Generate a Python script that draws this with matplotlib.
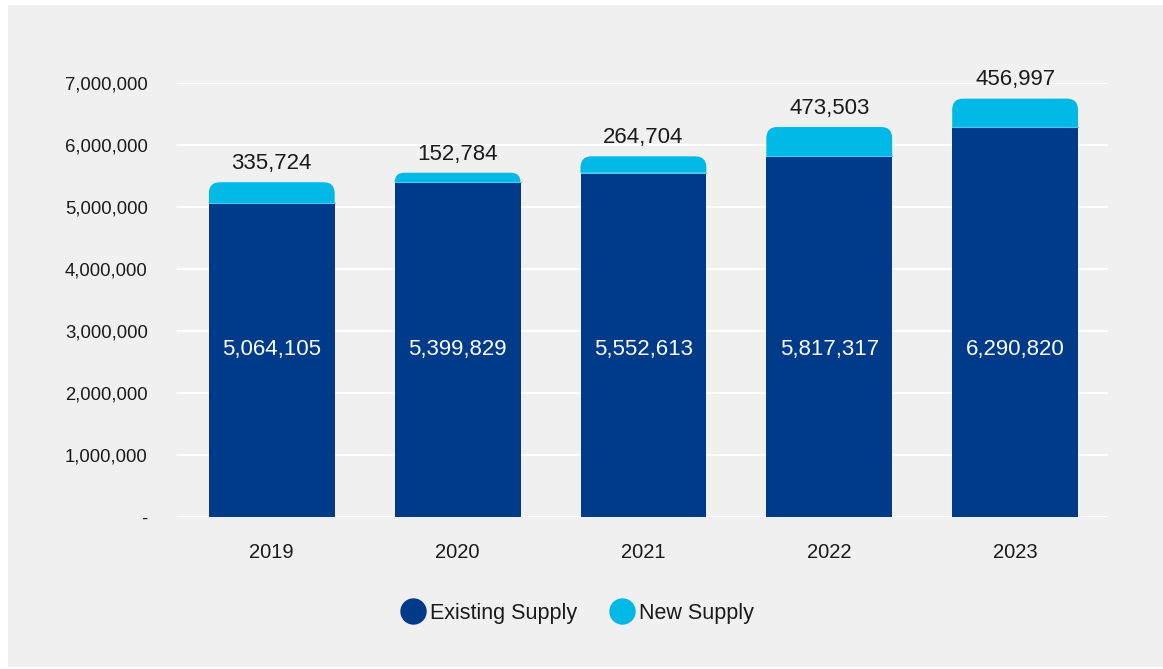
import matplotlib
matplotlib.use("Agg")
import matplotlib.pyplot as plt
from matplotlib.path import Path
from matplotlib.patches import PathPatch, Rectangle
from matplotlib.lines import Line2D
from matplotlib.ticker import FuncFormatter

plt.rcParams["font.family"] = ["Liberation Sans", "DejaVu Sans"]

years = ["2019", "2020", "2021", "2022", "2023"]
existing_supply = [5064105, 5399829, 5552613, 5817317, 6290820]
new_supply = [335724, 152784, 264704, 473503, 456997]
y_ticks = [0, 1000000, 2000000, 3000000, 4000000, 5000000, 6000000, 7000000]

NAVY = "#003b8a"
CYAN = "#00b9e6"
PANEL = "#f0f0f0"
TEXT = "#1a1a1a"

W, H = 1163, 669
fig = plt.figure(figsize=(W / 100, H / 100), dpi=100, facecolor="white")
# grey card behind the chart
fig.patches.append(Rectangle((8 / W, 0.003), 1 - 8 / W, 1 - 5 / H - 0.003,
                             transform=fig.transFigure, facecolor=PANEL,
                             edgecolor="none", zorder=-10))

ax_left, ax_right, ax_top, ax_bottom = 177, 1108, 83, 517
ax = fig.add_axes([ax_left / W, 1 - ax_bottom / H,
                   (ax_right - ax_left) / W, (ax_bottom - ax_top) / H])
ax.set_facecolor(PANEL)
ax.patch.set_alpha(0)

ax.set_xlim(-0.51, 4.5)
ax.set_ylim(0, 7000000)
for s in ax.spines.values():
    s.set_visible(False)

ax.set_yticks(y_ticks)
ax.yaxis.set_major_formatter(FuncFormatter(lambda v, p: "-" if v == 0 else f"{int(v):,}"))
ax.tick_params(axis="y", length=0, pad=21, labelsize=13.3, labelcolor=TEXT)
ax.set_xticks(range(len(years)))
ax.set_xticklabels(years)
ax.tick_params(axis="x", length=0, pad=19, labelsize=14.5, labelcolor=TEXT)
ax.grid(axis="y", color="white", linewidth=1.5, zorder=0)
ax.set_axisbelow(True)

bar_w = 0.677
# data units per pixel, for rounding corners
ax_w_px = ax_right - ax_left
ax_h_px = ax_bottom - ax_top
dx_px = (ax.get_xlim()[1] - ax.get_xlim()[0]) / ax_w_px
dy_px = (ax.get_ylim()[1] - ax.get_ylim()[0]) / ax_h_px
radius_px = 11


def top_rounded(x0, x1, y0, y1, rx, ry):
    verts = [(x0, y0), (x1, y0), (x1, y1 - ry), (x1, y1), (x1 - rx, y1),
             (x0 + rx, y1), (x0, y1), (x0, y1 - ry), (x0, y0)]
    codes = [Path.MOVETO, Path.LINETO, Path.LINETO, Path.CURVE3, Path.CURVE3,
             Path.LINETO, Path.CURVE3, Path.CURVE3, Path.CLOSEPOLY]
    return Path(verts, codes)


for i, (e, n) in enumerate(zip(existing_supply, new_supply)):
    x0, x1 = i - bar_w / 2, i + bar_w / 2
    ax.bar(i, e, width=bar_w, color=NAVY, zorder=2)
    h_px = n / dy_px
    r = min(radius_px, h_px)
    patch = PathPatch(top_rounded(x0, x1, e, e + n, r * dx_px, r * dy_px),
                      facecolor=CYAN, edgecolor="none", zorder=2)
    ax.add_patch(patch)
    ax.plot([x0, x1], [e, e], color="#4fc6ea", linewidth=0.8, zorder=3)
    ax.text(i, 2700000, f"{e:,}", ha="center", va="center", color="white",
            fontsize=16, zorder=4)
    ax.annotate(f"{n:,}", (i, e + n), xytext=(0, 9.5), textcoords="offset points",
                ha="center", va="baseline", fontsize=16, color=TEXT,
                annotation_clip=False, zorder=4)

handles = [
    Line2D([], [], linestyle="none", marker="o", markersize=19,
           markerfacecolor=NAVY, markeredgecolor="none", label="Existing Supply"),
    Line2D([], [], linestyle="none", marker="o", markersize=19,
           markerfacecolor=CYAN, markeredgecolor="none", label="New Supply"),
]
fig.legend(handles=handles, loc="center", bbox_to_anchor=(578 / W, 1 - 613 / H),
           ncol=2, frameon=False, fontsize=15.5, handlelength=1.0,
           handletextpad=0.3, columnspacing=1.6, labelcolor=TEXT)

fig.savefig("out.png", dpi=100, facecolor="white")
